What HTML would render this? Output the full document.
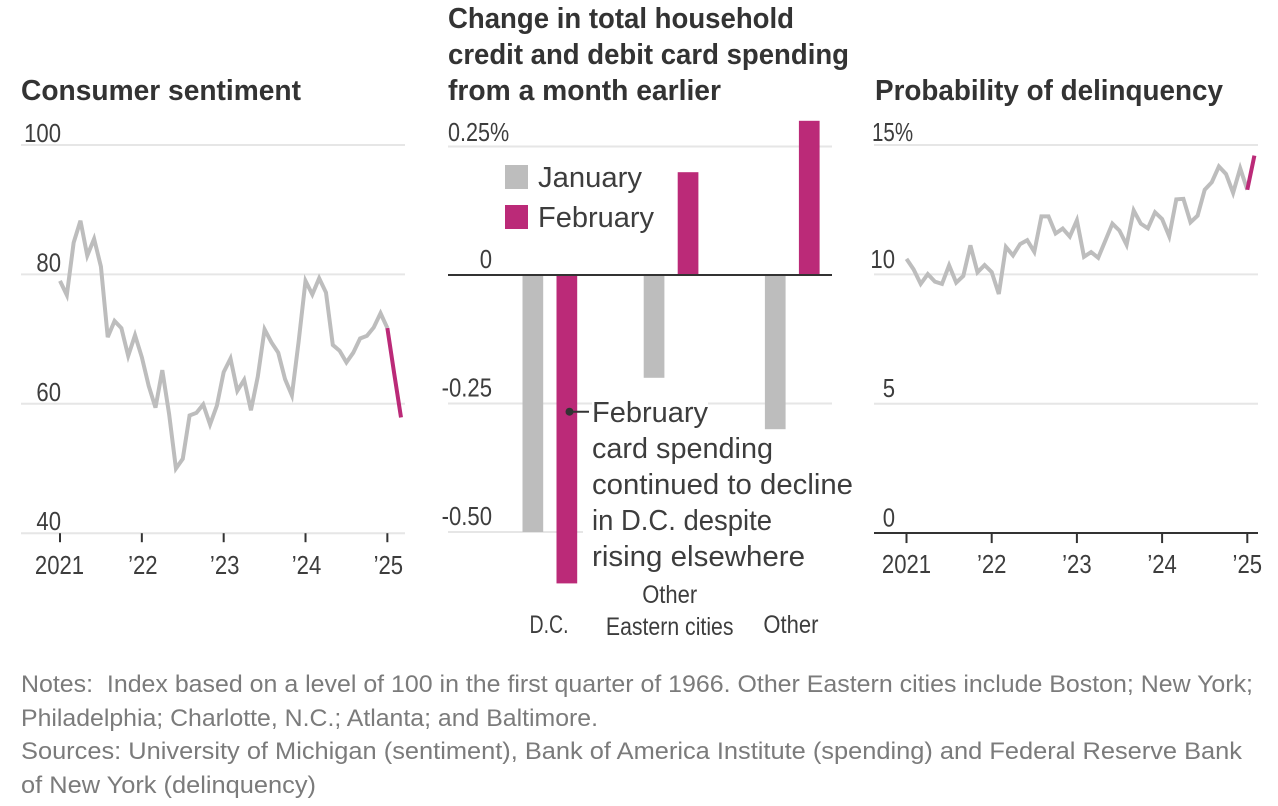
<!DOCTYPE html>
<html lang="en">
<head>
<meta charset="utf-8">
<title>Consumer sentiment, card spending and delinquency</title>
<style>
html,body{margin:0;padding:0;background:#fff;}
#stage{display:block;width:1278px;height:806px;background:#fff;font-family:"Liberation Sans",sans-serif;}
.title{font-size:29px;font-weight:700;fill:#333;}
.tick{font-size:26px;fill:#3d3d3d;}
.big{font-size:29px;fill:#3d3d3d;}
.cat{font-size:25px;fill:#3d3d3d;}
.note{font-size:24px;fill:#7b7b7b;}
</style>
</head>
<body>
<svg id="stage" xmlns="http://www.w3.org/2000/svg" width="1278" height="806" viewBox="0 0 1278 806">
  <g id="panel-sentiment">
    <text class="title" x="21" y="100" textLength="280" lengthAdjust="spacingAndGlyphs">Consumer sentiment</text>
  </g>
  <g id="panel-spending">
    <text class="title" x="448" y="28" textLength="346" lengthAdjust="spacingAndGlyphs">Change in total household</text>
    <text class="title" x="448" y="64" textLength="401" lengthAdjust="spacingAndGlyphs">credit and debit card spending</text>
    <text class="title" x="448" y="100" textLength="273" lengthAdjust="spacingAndGlyphs">from a month earlier</text>
  </g>
  <g id="panel-delinquency">
    <text class="title" x="875" y="100" textLength="348" lengthAdjust="spacingAndGlyphs">Probability of delinquency</text>
  </g>
  <g id="footnotes">
    <text class="note" x="21" y="692" textLength="1232" lengthAdjust="spacingAndGlyphs" xml:space="preserve">Notes:  Index based on a level of 100 in the first quarter of 1966. Other Eastern cities include Boston; New York;</text>
    <text class="note" x="21" y="726" textLength="577" lengthAdjust="spacingAndGlyphs">Philadelphia; Charlotte, N.C.; Atlanta; and Baltimore.</text>
    <text class="note" x="21" y="759" textLength="1221" lengthAdjust="spacingAndGlyphs">Sources: University of Michigan (sentiment), Bank of America Institute (spending) and Federal Reserve Bank</text>
    <text class="note" x="21" y="793" textLength="295" lengthAdjust="spacingAndGlyphs">of New York (delinquency)</text>
  </g>
</svg>
<script>
var yearTickLabels = ["2021", "\u201922", "\u201923", "\u201924", "\u201925"];
var yearTickIndexes = [0, 12, 24, 36, 48];

var sentimentTicks = [100, 80, 60, 40];
var sentimentValues = [79, 76.8, 84.9, 88.3, 82.9, 85.5, 81.2, 70.3, 72.8, 71.7, 67.4, 70.6,
  67.2, 62.8, 59.4, 65.2, 58.4, 50, 51.5, 58.2, 58.6, 59.9, 56.8, 59.7,
  64.9, 67, 62, 63.7, 59, 64.2, 71.5, 69.5, 67.9, 63.8, 61.3, 69.7,
  79, 76.9, 79.4, 77.2, 69.1, 68.2, 66.4, 67.9, 70.1, 70.5, 71.8, 74,
  71.7, 64.7, 57.9];

var delinquencyTicks = [15, 10, 5, 0];
var delinquencyValues = [10.6, 10.19, 9.63, 10.01, 9.72, 9.63, 10.35, 9.68, 9.94, 11.12, 10.08, 10.36,
  10.09, 9.24, 11.06, 10.73, 11.17, 11.32, 10.87, 12.24, 12.24, 11.58, 11.77, 11.46,
  12.09, 10.68, 10.86, 10.64, 11.3, 11.96, 11.69, 11.14, 12.47, 11.96, 11.78, 12.4,
  12.14, 11.47, 12.9, 12.92, 12.01, 12.27, 13.27, 13.56, 14.17, 13.88, 13.15, 14.1,
  13.27, 14.59];

var spendingTicks = [0.25, 0, -0.25, -0.5];
var spendingTickLabels = ["0.25%", "0", "-0.25", "-0.50"];
var spendingCategories = ["D.C.", "Other Eastern cities", "Other"];
var januaryValues = [-0.5, -0.2, -0.3];
var februaryValues = [-0.6, 0.2, 0.3];

var NS = "http://www.w3.org/2000/svg";
var GRAY = "#bdbdbd", PINK = "#bb2a78", DARK = "#333333", GRID = "#e6e6e6";

function make(parent, tag, attrs) {
  var el = document.createElementNS(NS, tag);
  for (var k in attrs) el.setAttribute(k, attrs[k]);
  parent.appendChild(el);
  return el;
}
function tickText(parent, cls, x, y, anchor, label, squeeze) {
  var t = make(parent, "text", {"class": cls, x: x, y: y, "text-anchor": anchor});
  t.textContent = label;
  var w = t.getComputedTextLength();
  t.setAttribute("textLength", (w * squeeze).toFixed(1));
  t.setAttribute("lengthAdjust", "spacingAndGlyphs");
  return t;
}
function linePath(values, xf, yf, from, to) {
  var d = "";
  for (var i = from; i <= to; i++) {
    d += (i === from ? "M" : "L") + xf(i).toFixed(2) + " " + yf(values[i]).toFixed(2);
  }
  return d;
}

/* Consumer sentiment */
var g1 = document.getElementById("panel-sentiment");
function x1(i) { return 60 + i * 6.82; }
function y1(v) { return 145 + (100 - v) * 6.47; }
sentimentTicks.forEach(function (v) {
  var grid = make(g1, "line", {x1: 21, x2: 405, y1: y1(v), y2: y1(v), stroke: GRID, "stroke-width": 2});
  
  
  var lab = tickText(g1, "tick", 61, y1(v) - 3, "end", String(v), 0.85);
  
  
});
yearTickIndexes.forEach(function (idx, n) {
  var tk = make(g1, "line", {x1: x1(idx), x2: x1(idx), y1: y1(40), y2: y1(40) + 9, stroke: DARK, "stroke-width": 2});
  
  
  var lab = tickText(g1, "tick", n === 0 ? x1(idx) - 0.5 : x1(idx) + 1, 574, "middle", yearTickLabels[n], 0.85);
  
  
});
var s1a = make(g1, "path", {d: linePath(sentimentValues, x1, y1, 0, 48), fill: "none", stroke: GRAY, "stroke-width": 4, "stroke-linejoin": "miter"});


var s1b = make(g1, "path", {d: linePath(sentimentValues, x1, y1, 48, sentimentValues.length - 1), fill: "none", stroke: PINK, "stroke-width": 4, "stroke-linejoin": "miter"});



/* Card spending */
var g2 = document.getElementById("panel-spending");
var zeroY = 275;
function y2(v) { return zeroY - v * 514; }
function groupCenter(i) { return 549.5 + i * 121.2; }
spendingTicks.forEach(function (v, n) {
  var grid = make(g2, "line", {x1: 448, x2: 832, y1: y2(v), y2: y2(v), stroke: v === 0 ? DARK : GRID, "stroke-width": 2});
  
  
  var lab;
  if (n === 0) {
    lab = tickText(g2, "tick", 448, y2(v) - 5.5, "start", spendingTickLabels[n], 0.83);
  } else {
    lab = tickText(g2, "tick", 492, y2(v) - 7, "end", spendingTickLabels[n], 0.85);
  }
  
  
});
var halo1 = make(g2, "rect", {x: 592, y: 396, width: 116, height: 14, fill: "#fff"});


var halo2 = make(g2, "rect", {x: 583, y: 525, width: 255, height: 14, fill: "#fff"});


spendingCategories.forEach(function (c, i) {
  var cx = groupCenter(i);
  function bar(v, x, color) {
    var top = Math.min(y2(v), y2(0));
    var h = Math.abs(y2(v) - y2(0));
    return make(g2, "rect", {x: x, y: top, width: 20.7, height: h, fill: color});
  }
  var jan = bar(januaryValues[i], cx - 27, GRAY);
  
  
  var feb = bar(februaryValues[i], cx + 7, PINK);
  
  
});
var axisTop = make(g2, "line", {x1: 448, x2: 832, y1: y2(0), y2: y2(0), stroke: DARK, "stroke-width": 2});



var catA = tickText(g2, "cat", groupCenter(0) - 0.5, 633, "middle", spendingCategories[0], 0.78);


var catParts = spendingCategories[1].split(" ");
var catB1 = tickText(g2, "cat", groupCenter(1) - 1, 603, "middle", catParts[0], 0.88);


var catB2 = tickText(g2, "cat", groupCenter(1) - 1, 635, "middle", catParts.slice(1).join(" "), 0.85);


var catC = tickText(g2, "cat", groupCenter(2) - 1, 633, "middle", spendingCategories[2], 0.88);



var legJ = make(g2, "rect", {x: 505, y: 165, width: 23, height: 24, fill: GRAY});


var legF = make(g2, "rect", {x: 505, y: 205, width: 23, height: 24, fill: PINK});


var legJT = make(g2, "text", {"class": "big", x: 538, y: 187, textLength: 104, lengthAdjust: "spacingAndGlyphs"});
legJT.textContent = "January";


var legFT = make(g2, "text", {"class": "big", x: 538, y: 227, textLength: 116, lengthAdjust: "spacingAndGlyphs"});
legFT.textContent = "February";



var annDot = make(g2, "circle", {cx: 569.5, cy: 411.7, r: 4, fill: DARK});


var annLine = make(g2, "line", {x1: 569.5, x2: 589, y1: 411.7, y2: 411.7, stroke: DARK, "stroke-width": 2});


var annLines = ["February", "card spending", "continued to decline", "in D.C. despite", "rising elsewhere"];
var annBase = [422, 458, 494, 530, 566];
var annWidth = [116, 181, 261, 180, 213];
annLines.forEach(function (s, i) {
  var t = make(g2, "text", {"class": "big", x: 592, y: annBase[i], textLength: annWidth[i], lengthAdjust: "spacingAndGlyphs"});
  t.textContent = s;
  
  
});

/* Delinquency */
var g3 = document.getElementById("panel-delinquency");
function x3(i) { return 906.5 + i * 7.1; }
function y3(v) { return 145 + (15 - v) * 25.87; }
delinquencyTicks.forEach(function (v, n) {
  var grid = make(g3, "line", {x1: 874, x2: 1258, y1: y3(v), y2: y3(v), stroke: v === 0 ? DARK : GRID, "stroke-width": 2});
  
  
  var lab = n === 0
    ? tickText(g3, "tick", 872, y3(v) - 4, "start", v + "%", 0.79)
    : tickText(g3, "tick", 895, y3(v) - 6.5, "end", String(v), 0.85);
  
  
});
yearTickIndexes.forEach(function (idx, n) {
  var tk = make(g3, "line", {x1: x3(idx), x2: x3(idx), y1: y3(0), y2: y3(0) + 10, stroke: DARK, "stroke-width": 2});
  
  
  var lab = tickText(g3, "tick", x3(idx), 573, "middle", yearTickLabels[n], 0.85);
  
  
});
var s3a = make(g3, "path", {d: linePath(delinquencyValues, x3, y3, 0, 48), fill: "none", stroke: GRAY, "stroke-width": 4, "stroke-linejoin": "miter"});


var s3b = make(g3, "path", {d: linePath(delinquencyValues, x3, y3, 48, delinquencyValues.length - 1), fill: "none", stroke: PINK, "stroke-width": 4, "stroke-linejoin": "miter"});


</script>
</body>
</html>
